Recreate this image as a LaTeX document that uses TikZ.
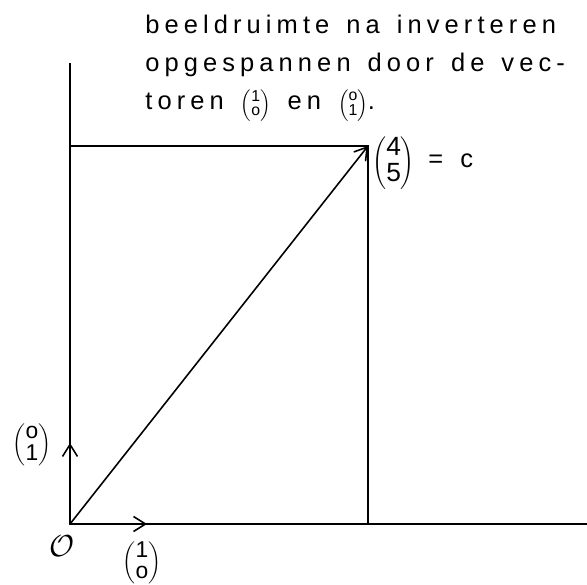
\documentclass[tikz,border=0pt]{standalone}
\usepackage{fontspec}
\setmainfont[LetterSpace=20, WordSpace=1.4]{Liberation Sans}
\usetikzlibrary{arrows.meta}
\usetikzlibrary{positioning}

% column vector with round brackets
\newcommand{\kol}[2]{{\renewcommand{\arraystretch}{0.8}\ensuremath{\left(\begin{array}{@{}c@{}}\mbox{#1}\\\mbox{#2}\end{array}\right)}}}

\begin{document}
\begin{tikzpicture}[
    x=0.02cm, y=-0.02cm,
    axis/.style={line width=1.1pt}, % Style for the axes and the box
    vec/.style={line width=0.9pt, -{Straight Barb[length=2.4mm, width=3mm]}}, % Style for the vectors
    lbl/.style={inner sep=0pt, font=\fontsize{14.5}{21.5}\selectfont} % Style for the texts
]
\useasboundingbox (0,0) rectangle (587,584);

% Points
\coordinate (O) at (70,524);
\coordinate (ytop) at (70,63);
\coordinate (xend) at (587,524);
\coordinate (c) at (368,146);
\coordinate (cy) at (70,146);
\coordinate (cx) at (368,524);
\coordinate (e1) at (147,524);
\coordinate (e2) at (70,443);

% Axes and box
\draw[axis] (ytop) -- (O) -- (xend);
\draw[axis] (cy) -- (c) -- (cx);

% Vectors
\draw[vec] (O) -- (e1);
\draw[vec] (O) -- (e2);
\draw[vec] (O) -- (c);

% Labels
\node[lbl, anchor=north west, align=left] (tekst) at (145,15) {%
    beeldruimte na inverteren\\
    opgespannen door de vec-\\
    toren \smash{{\fontsize{9}{10}\selectfont\kol{1}{o}}} en \smash{{\fontsize{9}{10}\selectfont\kol{o}{1}}}.};
\node[lbl, anchor=west] (cvec) at (372,163) {\fontsize{15}{18}\selectfont\kol{4}{5}};
\node[lbl, anchor=west] (isc) at (428,161) {= c};
\node[lbl] (e2l) at (32,445) {\fontsize{13}{15}\selectfont\kol{o}{1}};
\node[lbl] (e1l) at (142,563) {\fontsize{13}{15}\selectfont\kol{1}{o}};
\node[lbl] (Ol) at (62,546) {\fontsize{16}{18}\selectfont$\mathcal{O}$};

\end{tikzpicture}
\end{document}
